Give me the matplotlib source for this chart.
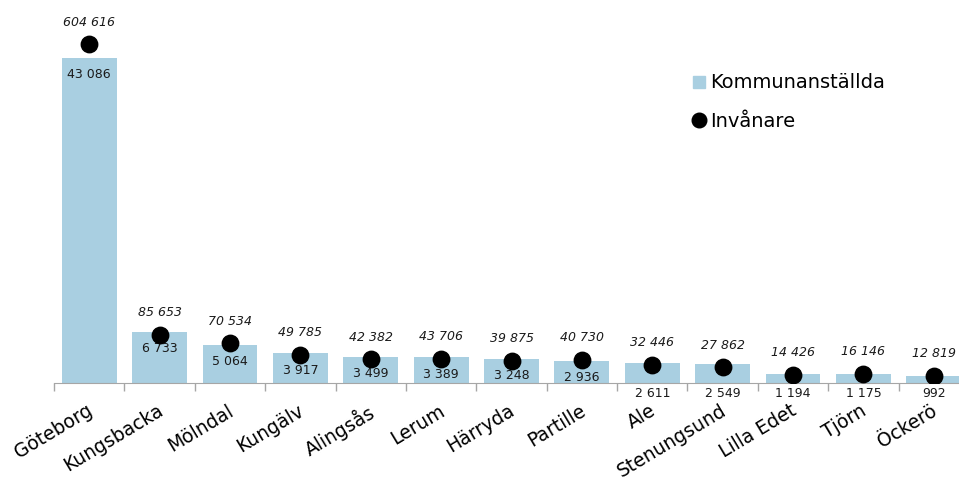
import matplotlib
matplotlib.use("Agg")
import matplotlib.pyplot as plt
from matplotlib.lines import Line2D
from matplotlib.transforms import ScaledTranslation

kommuner = ["Göteborg", "Kungsbacka", "Mölndal", "Kungälv", "Alingsås", "Lerum",
            "Härryda", "Partille", "Ale", "Stenungsund", "Lilla Edet", "Tjörn", "Öckerö"]
anstallda = [43086, 6733, 5064, 3917, 3499, 3389, 3248, 2936, 2611, 2549, 1194, 1175, 992]
invanare = [604616, 85653, 70534, 49785, 42382, 43706, 39875, 40730, 32446, 27862,
            14426, 16146, 12819]

BAR_COLOR = "#a9cfe1"
GRID_GRAY = "#a6a6a6"


def fmt(v):
    return f"{v:,}".replace(",", " ")


fig = plt.figure(figsize=(9.59, 4.8), dpi=100)
ax = fig.add_axes([54 / 959, 97 / 480, 915 / 959, 383 / 480])
ax2 = ax.twinx()

x = list(range(len(kommuner)))
ax.bar(x, anstallda, width=0.78, color=BAR_COLOR, zorder=2)
ax.set_xlim(-0.5, len(kommuner) - 0.5)
ax.set_ylim(0, 50775)
ax2.set_ylim(0, 683700)

ax2.scatter(x, invanare, s=140, color="black", zorder=3)

# employee counts: just under the bar top, or under the axis for the short bars
for xi, v in zip(x, anstallda):
    if v > 2800:
        ax.annotate(fmt(v), (xi, v), xytext=(0, -12), textcoords="offset points",
                    ha="center", va="center", fontsize=9, color="#1a1a1a")
    else:
        ax.annotate(fmt(v), (xi, 0), xytext=(0, -7.5), textcoords="offset points",
                    ha="center", va="center", fontsize=9, color="#1a1a1a")

for xi, v in zip(x, invanare):
    ax2.annotate(fmt(v), (xi, v), xytext=(0, 16), textcoords="offset points",
                 ha="center", va="center", fontsize=9, style="italic", color="#1a1a1a")

for a in (ax, ax2):
    for s in ("top", "right", "left"):
        a.spines[s].set_visible(False)
    a.set_yticks([])
ax.spines["bottom"].set_color(GRID_GRAY)
ax2.spines["bottom"].set_visible(False)

ax.set_xticks(x)
ax.set_xticklabels(kommuner, rotation=31, ha="right", va="top",
                   rotation_mode="anchor", fontsize=13.5)
ax.tick_params(axis="x", which="major", length=0, pad=13)
shift = ScaledTranslation(-3 / 100, 0, fig.dpi_scale_trans)
for lbl in ax.get_xticklabels():
    lbl.set_transform(lbl.get_transform() + shift)
ax.set_xticks([i - 0.5 for i in range(len(kommuner) + 1)], minor=True)
ax.tick_params(axis="x", which="minor", length=6, color=GRID_GRAY, width=1)

handles = [
    Line2D([], [], marker="s", linestyle="none", color=BAR_COLOR, markersize=8),
    Line2D([], [], marker="o", linestyle="none", color="black", markersize=10.5),
]
fig.legend(handles, ["Kommunanställda", "Invånare"], loc="upper left",
           bbox_to_anchor=(676 / 959, 1 - 56 / 480), frameon=False, fontsize=14,
           handlelength=0.6, handletextpad=0.25, labelspacing=1.0)

fig.savefig("out.png", dpi=100)
